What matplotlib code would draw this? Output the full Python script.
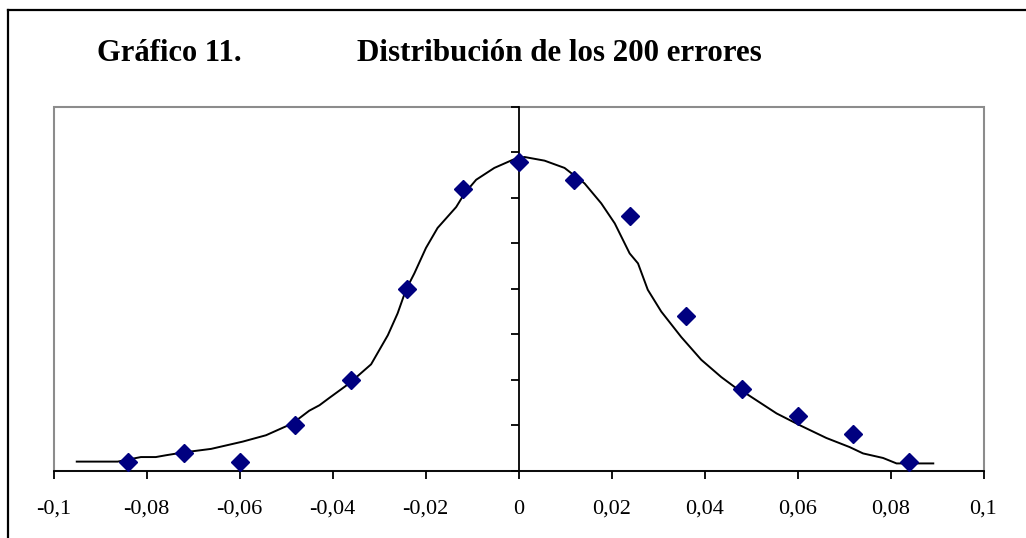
import matplotlib
matplotlib.use("Agg")
import matplotlib.pyplot as plt
from matplotlib.patches import Rectangle
from matplotlib.lines import Line2D

# Data: histogram points (counts of the 200 errors per bin)
bin_centers = [-0.084, -0.072, -0.060, -0.048, -0.036, -0.024, -0.012, 0.0,
               0.012, 0.024, 0.036, 0.048, 0.060, 0.072, 0.084]
counts = [1, 2, 1, 5, 10, 20, 31, 34, 32, 28, 17, 9, 6, 4, 1]

# Data: fitted curve
curve_x = [-0.0950, -0.0862, -0.0812, -0.0780, -0.0758, -0.0722, -0.0661, -0.0593,
           -0.0543, -0.0486, -0.0450, -0.0428, -0.0407, -0.0364, -0.0317, -0.0281,
           -0.0260, -0.0242, -0.0224, -0.0199, -0.0174, -0.0134, -0.0116, -0.0091,
           -0.0052, -0.0012, 0.0013, 0.0056, 0.0099, 0.0142, 0.0178, 0.0207,
           0.0239, 0.0257, 0.0278, 0.0307, 0.0350, 0.0393, 0.0436, 0.0465,
           0.0483, 0.0555, 0.0605, 0.0662, 0.0712, 0.0741, 0.0784, 0.0813, 0.0892]
curve_y = [1.0, 1.0, 1.5, 1.5, 1.7, 2.0, 2.4, 3.2,
           3.9, 5.2, 6.6, 7.2, 8.0, 9.6, 11.7, 14.9,
           17.3, 19.9, 21.7, 24.5, 26.7, 29.0, 30.5, 32.0,
           33.3, 34.2, 34.5, 34.1, 33.3, 31.6, 29.4, 27.2,
           23.9, 22.8, 19.9, 17.5, 14.7, 12.2, 10.3, 9.2,
           8.7, 6.3, 5.0, 3.6, 2.6, 1.9, 1.4, 0.8, 0.8]

x_ticks = [-0.1, -0.08, -0.06, -0.04, -0.02, 0.0, 0.02, 0.04, 0.06, 0.08, 0.1]
x_tick_labels = ["-0,1", "-0,08", "-0,06", "-0,04", "-0,02", "0",
                 "0,02", "0,04", "0,06", "0,08", "0,1"]
y_ticks = [0, 5, 10, 15, 20, 25, 30, 35, 40]

title_left = "Gráfico 11."
title_right = "Distribución de los 200 errores"

W, H = 1026, 538
fig = plt.figure(figsize=(W / 100, H / 100), dpi=100)
fig.patch.set_facecolor("white")

ax = fig.add_axes([53.5 / W, (H - 470.7) / H, 930 / W, 363.7 / H])
ax.set_xlim(-0.1, 0.1)
ax.set_ylim(0, 40)

ax.plot(curve_x, curve_y, color="black", linewidth=1.4, zorder=3)
ax.plot(bin_centers, counts, linestyle="none", marker="D", markersize=9,
        color="#000080", markeredgecolor="#000080", zorder=4)

# Spines
ax.spines["top"].set_visible(False)
ax.spines["right"].set_visible(False)
ax.spines["left"].set_position(("data", 0))
ax.spines["left"].set_linewidth(1.3)
ax.spines["bottom"].set_linewidth(1.3)
ax.add_patch(Rectangle((0, 0), 1, 1, transform=ax.transAxes, fill=False,
                       edgecolor="#8c8c8c", linewidth=1.5, zorder=1, clip_on=False))

ax.set_xticks(x_ticks)
ax.set_xticklabels(x_tick_labels, fontfamily="Liberation Serif", fontsize=16)
ax.set_yticks(y_ticks)
ax.set_yticklabels([])
ax.tick_params(axis="x", direction="out", length=6, width=1.3, pad=15, colors="black")
ax.tick_params(axis="y", direction="out", length=6, width=1.3)

# Title
fig.text(96.7 / W, (H - 60.7) / H, title_left, fontfamily="Liberation Serif",
         fontweight="bold", fontsize=22, va="baseline", ha="left")
fig.text(357 / W, (H - 60.7) / H, title_right, fontfamily="Liberation Serif",
         fontweight="bold", fontsize=22.3, va="baseline", ha="left")

# Outer border (left and top visible)
fig.add_artist(Line2D([8 / W, 8 / W], [0, (H - 9.5) / H], transform=fig.transFigure,
                      color="black", linewidth=1.6))
fig.add_artist(Line2D([8 / W, 1], [(H - 9.5) / H, (H - 9.5) / H], transform=fig.transFigure,
                      color="black", linewidth=1.6))

fig.savefig("out.png", dpi=100, facecolor="white")
